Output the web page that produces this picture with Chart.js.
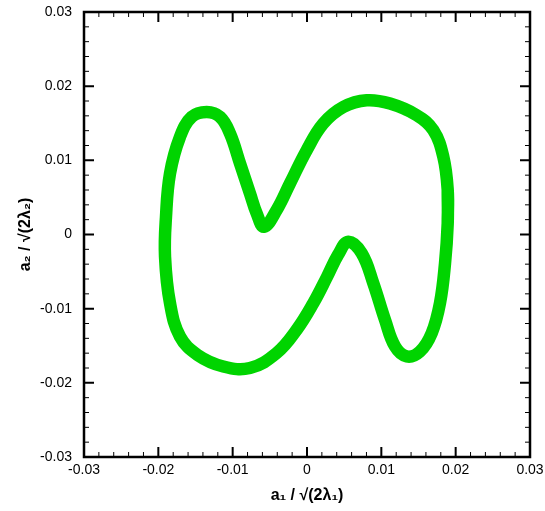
<!DOCTYPE html>
<html>
<head>
<meta charset="utf-8">
<script src="https://cdn.jsdelivr.net/npm/chart.js@4"></script>
<style>
  html, body { margin: 0; padding: 0; background: #fff; }
  #wrap { width: 545px; height: 511px; }
</style>
</head>
<body>
<div id="wrap"><canvas id="orbit"></canvas></div>
<script>
/* ---- données (courbe fermée, départ côté droit) ---- */
const a1 = [
   0.01893,  0.01893,  0.01857,  0.01789,  0.01678,  0.01520,  0.01341,  0.01184,
   0.01049,  0.00892,  0.00736,  0.00556,  0.00420,  0.00270,  0.00085, -0.00139,
  -0.00408, -0.00767, -0.01126, -0.01470, -0.01709, -0.01843, -0.01910, -0.01897,
  -0.01843, -0.01709, -0.01551, -0.01349, -0.01170, -0.01036, -0.00901, -0.00767,
  -0.00677, -0.00579, -0.00408, -0.00229, -0.00004,  0.00219,  0.00488,  0.00803,
   0.01117,  0.01476,  0.01699,  0.01834,  0.01893,  0.01893
];
const a2 = [
   0.00599,  0.00151, -0.00387, -0.00926, -0.01329, -0.01577, -0.01644, -0.01509,
  -0.01150, -0.00657, -0.00253, -0.00097, -0.00270, -0.00570, -0.00926, -0.01285,
  -0.01598, -0.01800, -0.01779, -0.01625, -0.01375, -0.00926, -0.00299,  0.00239,
   0.00823,  0.01316,  0.01585,  0.01652,  0.01585,  0.01362,  0.00958,  0.00554,
   0.00285,  0.00105,  0.00330,  0.00689,  0.01137,  0.01496,  0.01719,  0.01810,
   0.01765,  0.01608,  0.01406,  0.01047,  0.00599,  0.00151
];
const axisTicks = [-0.03, -0.02, -0.01, 0, 0.01, 0.02, 0.03];
const minorStep = 0.002;

const points = a1.map((x, i) => ({ x, y: a2[i] }));

/* ---- cadre + graduations vers l'intérieur (4 côtés) ---- */
const frameTicks = {
  id: 'frameTicks',
  afterDraw(chart) {
    const { ctx, chartArea: a, scales: { x, y } } = chart;
    ctx.save();
    ctx.strokeStyle = '#000';
    const n = Math.round(0.06 / minorStep);
    for (let i = 0; i <= n; i++) {
      const v = -0.03 + i * minorStep;
      const major = i % 5 === 0;
      const len = major ? 10 : 5;
      ctx.lineWidth = major ? 2 : 1;
      const px = x.getPixelForValue(v);
      const py = y.getPixelForValue(v);
      ctx.beginPath();
      ctx.moveTo(px, a.bottom); ctx.lineTo(px, a.bottom - len);
      ctx.moveTo(px, a.top);    ctx.lineTo(px, a.top + len);
      ctx.moveTo(a.left, py);   ctx.lineTo(a.left + len, py);
      ctx.moveTo(a.right, py);  ctx.lineTo(a.right - len, py);
      ctx.stroke();
    }
    ctx.lineWidth = 2.5;
    ctx.strokeRect(a.left, a.top, a.right - a.left, a.bottom - a.top);
    ctx.restore();
  }
};

const fmt = v => {
  const r = Math.round(v * 100) / 100;
  return r === 0 ? '0' : r.toFixed(2);
};

new Chart(document.getElementById('orbit'), {
  type: 'scatter',
  data: {
    datasets: [{
      data: points,
      showLine: true,
      tension: 0.4,
      borderColor: '#00d400',
      borderWidth: 12.5,
      borderCapStyle: 'round',
      borderJoinStyle: 'round',
      pointRadius: 0,
      fill: false
    }]
  },
  options: {
    responsive: true,
    maintainAspectRatio: false,
    animation: false,
    layout: { padding: { top: 12, right: 15, left: 16, bottom: 0 } },
    plugins: { legend: { display: false }, tooltip: { enabled: false } },
    scales: {
      x: {
        type: 'linear',
        min: -0.03, max: 0.03,
        afterBuildTicks: s => { s.ticks = axisTicks.map(value => ({ value })); },
        afterFit: s => { s.height = 54; s.paddingLeft = 0; s.paddingRight = 0; },
        grid: { display: false, drawTicks: false },
        border: { display: false },
        ticks: { color: '#000', padding: 5, maxRotation: 0,
                 font: { family: 'Liberation Sans, Arial', size: 14 },
                 callback: v => fmt(v) },
        title: { display: true, text: 'a\u2081 / \u221A(2\u03BB\u2081)', color: '#000',
                 padding: { top: 0, bottom: 6 },
                 font: { family: 'Liberation Sans, Arial', size: 16, weight: 'bold' } }
      },
      y: {
        type: 'linear',
        min: -0.03, max: 0.03,
        afterBuildTicks: s => { s.ticks = axisTicks.map(value => ({ value })); },
        afterFit: s => { s.width = 68; s.paddingTop = 0; s.paddingBottom = 0; },
        grid: { display: false, drawTicks: false },
        border: { display: false },
        ticks: { color: '#000', padding: 12,
                 font: { family: 'Liberation Sans, Arial', size: 14 },
                 callback: v => fmt(v) },
        title: { display: true, text: 'a\u2082 / \u221A(2\u03BB\u2082)', color: '#000',
                 padding: { top: 0, bottom: 4 },
                 font: { family: 'Liberation Sans, Arial', size: 16, weight: 'bold' } }
      }
    }
  },
  plugins: [frameTicks]
});
</script>
</body>
</html>
